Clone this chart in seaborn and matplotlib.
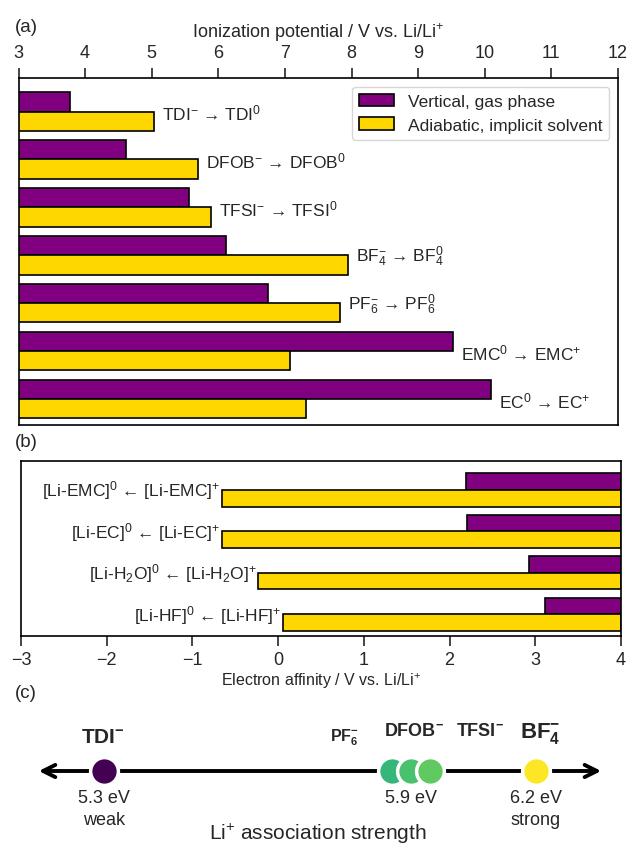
import seaborn as sns
import matplotlib.pyplot as plt
import matplotlib.patches as mpatches
import pandas as pd

sns.set_style("ticks")
plt.rcParams['font.family'] = ['Liberation Sans', 'DejaVu Sans']
plt.rcParams['mathtext.default'] = 'regular'

# (a) ionization potentials, V vs. Li/Li+
ip_reactions = [r'TDI$^{-}$ → TDI$^{0}$', r'DFOB$^{-}$ → DFOB$^{0}$', r'TFSI$^{-}$ → TFSI$^{0}$',
                r'BF$_4^{-}$ → BF$_4^{0}$', r'PF$_6^{-}$ → PF$_6^{0}$',
                r'EMC$^{0}$ → EMC$^{+}$', r'EC$^{0}$ → EC$^{+}$']
ip_vertical = [3.77, 4.61, 5.56, 6.12, 6.75, 9.52, 10.09]
ip_adiabatic = [5.04, 5.70, 5.89, 7.94, 7.83, 7.08, 7.32]

# (b) electron affinities, V vs. Li/Li+
ea_reactions = [r'[Li-EMC]$^{0}$ ← [Li-EMC]$^{+}$', r'[Li-EC]$^{0}$ ← [Li-EC]$^{+}$',
                r'[Li-H$_2$O]$^{0}$ ← [Li-H$_2$O]$^{+}$', r'[Li-HF]$^{0}$ ← [Li-HF]$^{+}$']
ea_vertical = [2.19, 2.20, 2.93, 3.11]
ea_adiabatic = [-0.66, -0.65, -0.23, 0.06]

kinds = ['Vertical, gas phase', 'Adiabatic, implicit solvent']
colors = ['#800080', '#FFD700']

# (c) Li+ association strength
anion_labels = [r'TDI$^{-}$', r'PF$_6^{-}$', r'DFOB$^{-}$', r'TFSI$^{-}$', r'BF$_4^{-}$']
assoc_ev = [5.30, 5.90, 5.94, 5.98, 6.20]
ev_labels = ['5.3 eV\nweak', '5.9 eV', '6.2 eV\nstrong']
ev_label_at = [5.30, 5.94, 6.20]

W, H = 627, 845
fig = plt.figure(figsize=(W / 100, H / 100), dpi=100)


def rect(l, t, r, b):
    return [l / W, 1 - b / H, (r - l) / W, (b - t) / H]


ax_a = fig.add_axes(rect(18.5, 79, 618, 426))
ax_b = fig.add_axes(rect(21, 462, 621, 637))
ax_c = fig.add_axes(rect(0, 690, 627, 845))

# ---- (a)
df_a = pd.DataFrame({
    'reaction': ip_reactions * 2,
    'IP': ip_vertical + ip_adiabatic,
    'kind': [kinds[0]] * len(ip_reactions) + [kinds[1]] * len(ip_reactions),
})
sns.barplot(data=df_a, x='IP', y='reaction', hue='kind', orient='h', palette=colors,
            saturation=1, edgecolor='black', linewidth=1.2, width=0.8, ax=ax_a, legend=False)
ax_a.set_xlim(3, 12)
ax_a.set_ylim(len(ip_reactions) - 0.46, -0.7)
ax_a.xaxis.tick_top()
ax_a.xaxis.set_label_position('top')
ax_a.set_xlabel(r'Ionization potential / V vs. Li/Li$^{+}$', fontsize=13, labelpad=5)
ax_a.set_ylabel('')
ax_a.set_yticks([])
ax_a.set_xticks(range(3, 13))
ax_a.tick_params(axis='x', direction='out', length=7, width=1.2, labelsize=13, pad=5)
for i, lab in enumerate(ip_reactions):
    ax_a.text(max(ip_vertical[i], ip_adiabatic[i]) + 0.12, i + 0.02, lab,
              ha='left', va='center', fontsize=12.5)
handles = [mpatches.Patch(facecolor=c, edgecolor='black', linewidth=1.2, label=k)
           for c, k in zip(colors, kinds)]
ax_a.legend(handles=handles, loc='upper right', fontsize=12.5)

# ---- (b)
for i, lab in enumerate(ea_reactions):
    ax_b.barh(i - 0.2, 4 - ea_vertical[i], left=ea_vertical[i], height=0.4,
              color=colors[0], edgecolor='black', linewidth=1.2)
    ax_b.barh(i + 0.2, 4 - ea_adiabatic[i], left=ea_adiabatic[i], height=0.4,
              color=colors[1], edgecolor='black', linewidth=1.2)
    ax_b.text(ea_adiabatic[i] - 0.02, i, lab, ha='right', va='center', fontsize=12.5)
ax_b.set_xlim(-3, 4)
ax_b.set_ylim(len(ea_reactions) - 0.47, -0.7)
ax_b.set_yticks([])
ax_b.set_xticks(range(-3, 5))
ax_b.tick_params(axis='x', direction='out', length=7, width=1.2, labelsize=13, pad=3.5)
ax_b.set_xlabel(r'Electron affinity / V vs. Li/Li$^{+}$', fontsize=11.5, labelpad=2)

for ax in (ax_a, ax_b):
    for s in ax.spines.values():
        s.set_visible(True)
        s.set_linewidth(1.2)
        s.set_color('black')

# ---- (c)
ax_c.set_xlim(5.083, 6.39)
ax_c.set_ylim(845, 690)
ax_c.axis('off')
ax_c.annotate('', xy=(6.342, 772), xytext=(5.158, 772),
              arrowprops=dict(arrowstyle='<->', lw=2.8, color='black', mutation_scale=22))
cmap = sns.color_palette('viridis', as_cmap=True)
for i, e in enumerate(assoc_ev):
    ax_c.scatter(e, 772, s=400, color=cmap((e - 5.3) / 0.9), edgecolor='white',
                 linewidth=2.5, zorder=3 + i)
label_x = [5.298, 5.80, 5.946, 6.083, 6.208]
label_y = [743, 742, 736, 736, 738]
label_fs = [15, 11.5, 13, 13, 16]
for lab, x, y, fs in zip(anion_labels, label_x, label_y, label_fs):
    ax_c.text(x, y, lab, ha='center', va='baseline', fontsize=fs, fontweight='bold')
for lab, x in zip(ev_labels, ev_label_at):
    ax_c.text(x, 790, lab, ha='center', va='top', fontsize=13, linespacing=1.35)
ax_c.text(5.746, 834, r'Li$^{+}$ association strength', ha='center', va='center', fontsize=15)

fig.text(15 / W, 1 - 27 / H, '(a)', fontsize=13.5, ha='left', va='center')
fig.text(15 / W, 1 - 443 / H, '(b)', fontsize=13.5, ha='left', va='center')
fig.text(15 / W, 1 - 694 / H, '(c)', fontsize=13.5, ha='left', va='center')

fig.savefig('out.png', dpi=100)
